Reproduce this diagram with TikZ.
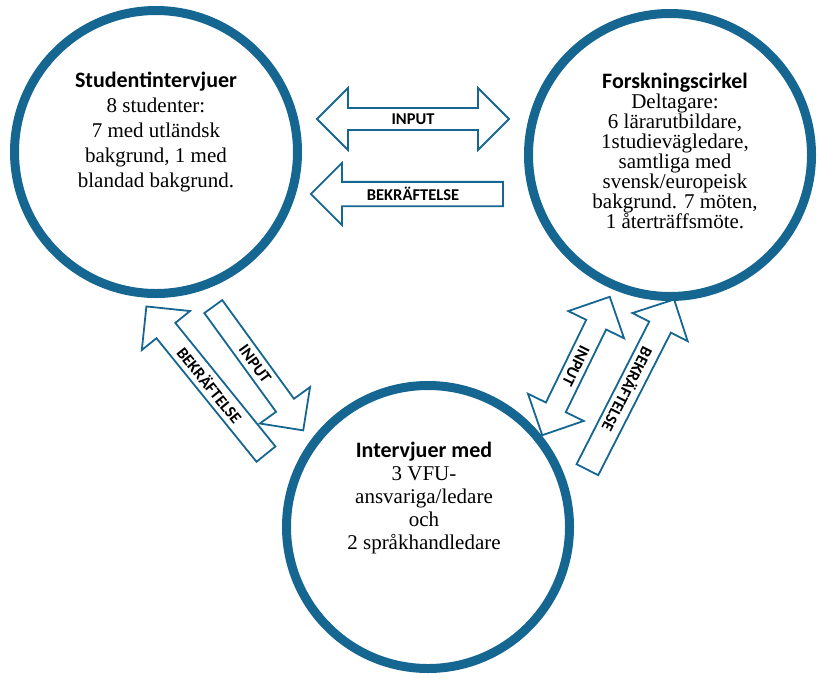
\documentclass[tikz,border=0pt]{standalone}
\usepackage{fontspec}
\setmainfont{Liberation Serif}
\usetikzlibrary{shapes,arrows,positioning}
\newfontfamily\headsf{Carlito}
\definecolor{cblue}{RGB}{22,102,146}
\newcommand{\hd}[1]{{\headsf\bfseries\fontsize{22}{24}\selectfont #1}}
\tikzstyle{circ}=[circle,draw=cblue,line width=9pt,minimum size=283pt,inner sep=0pt]
\tikzstyle{txt}=[align=center,inner sep=0pt]
\tikzstyle{sarr}=[single arrow,draw=cblue,line width=1.8pt,minimum width=62pt,single arrow head extend=15pt,single arrow tip angle=90,inner sep=2pt,font=\headsf\bfseries\fontsize{16.5}{18}\selectfont]
\tikzstyle{darr}=[double arrow,draw=cblue,line width=1.8pt,minimum width=62pt,double arrow head extend=15pt,double arrow tip angle=90,inner sep=2pt,font=\headsf\bfseries\fontsize{16.5}{18}\selectfont]
\begin{document}
\begin{tikzpicture}[x=1pt,y=1pt]
\useasboundingbox (0,0) rectangle (818,-678);
\node (stud) [circ] at (156,-152) {};
\node (fork) [circ] at (670,-155) {};
\node (vfu) [circ] at (428,-527) {};
\node (studtxt) [txt,font=\fontsize{21}{25}\selectfont] at (156,-132)
  {\hd{Studentintervjuer}\\8 studenter:\\7 med utländsk\\bakgrund, 1 med\\blandad bakgrund.};
\node (forktxt) [txt,font=\fontsize{21}{20}\selectfont] at (675,-151)
  {\hd{Forskningscirkel}\\Deltagare:\\6 lärarutbildare,\\1studievägledare,\\samtliga med\\svensk/europeisk\\bakgrund. 7 möten,\\1 återträffsmöte.};
\node (vfutxt) [txt,font=\fontsize{21}{23}\selectfont] at (424,-498)
  {\hd{Intervjuer med}\\3 VFU-\\ansvariga/ledare\\och\\2 språkhandledare};
% top pair
\node (in1) [darr,minimum height=192pt] at (413,-119) {INPUT};
\node (bk1) [sarr,minimum height=192pt,shape border rotate=180] at (413,-194) {BEKRÄFTELSE};
% left pair
\node (in2) [sarr,minimum height=153pt,rotate=-54] at (255,-364) {INPUT};
\node (bk2) [sarr,minimum height=190pt,rotate=-51,shape border rotate=180] at (210,-385) {BEKRÄFTELSE};
% right pair
\node (in3) [darr,minimum height=154pt,rotate=-116] at (576,-366) {INPUT};
\node (bk3) [sarr,minimum height=191pt,rotate=-117,shape border rotate=180] at (628,-390) {BEKRÄFTELSE};
\end{tikzpicture}
\end{document}
